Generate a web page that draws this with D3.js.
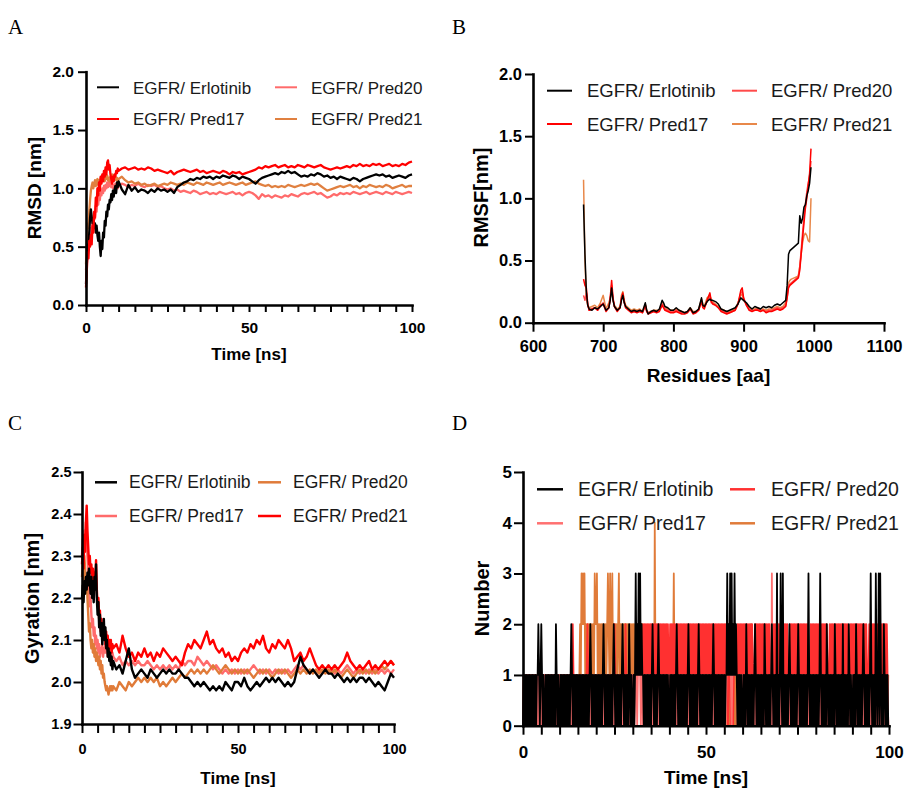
<!DOCTYPE html>
<html>
<head>
<meta charset="utf-8">
<script src="https://cdn.jsdelivr.net/npm/d3@7"></script>
<style>
body { margin: 0; background: #fff; }
svg { display: block; font-family: "Liberation Sans", Arial, sans-serif; }
</style>
</head>
<body>
<svg id="fig" width="904" height="790"></svg>
<script>
// sampling grids (ns): 0.25 ns up to 10 ns, then 1 ns
var timeGrid = d3.range(0, 10, 0.25).concat(d3.range(10, 100.5, 1));
var hbTime = d3.range(0, 500).map(function(i) { return i * 0.2; });

// A - RMSD [nm]
var rmsdErlotinib = [
0.18,0.35,0.52,0.48,0.62,0.75,0.82,0.76,0.70,0.74,
0.66,0.70,0.62,0.68,0.60,0.55,0.62,0.50,0.42,0.55,
0.48,0.62,0.58,0.72,0.68,0.80,0.76,0.86,0.82,0.90,
0.88,0.95,0.90,0.98,0.93,0.99,1.02,0.96,1.05,1.01,
1.06,0.99,0.95,1.03,0.98,1.01,0.97,0.99,0.98,0.96,
0.99,0.97,1.00,0.98,0.99,0.97,0.99,0.96,1.01,1.03,
1.05,1.06,1.08,1.07,1.09,1.08,1.10,1.09,1.10,1.08,
1.10,1.09,1.11,1.10,1.09,1.11,1.10,1.08,1.10,1.09,
1.08,1.06,1.04,1.07,1.09,1.10,1.11,1.12,1.13,1.12,
1.14,1.13,1.15,1.13,1.14,1.12,1.10,1.11,1.10,1.12,
1.11,1.13,1.12,1.10,1.11,1.09,1.10,1.08,1.10,1.09,
1.08,1.07,1.09,1.08,1.06,1.08,1.09,1.10,1.11,1.12,
1.11,1.12,1.10,1.11,1.09,1.10,1.11,1.10,1.09,1.11,
1.12];
var rmsdPred17 = [
0.15,0.30,0.45,0.40,0.55,0.50,0.60,0.52,0.68,0.62,
0.80,0.75,0.92,0.85,1.00,0.94,1.05,0.98,1.10,1.04,
1.12,1.06,1.15,1.10,1.18,1.12,1.22,1.24,1.16,1.20,
1.12,1.08,1.04,1.10,1.06,1.12,1.10,1.15,1.13,1.17,
1.15,1.17,1.18,1.16,1.17,1.18,1.16,1.17,1.16,1.18,
1.17,1.15,1.16,1.15,1.14,1.13,1.15,1.12,1.14,1.15,
1.16,1.15,1.14,1.15,1.16,1.14,1.15,1.13,1.14,1.15,
1.14,1.13,1.15,1.14,1.12,1.14,1.13,1.14,1.12,1.13,
1.14,1.15,1.16,1.18,1.17,1.19,1.18,1.19,1.20,1.18,
1.19,1.20,1.18,1.19,1.18,1.20,1.19,1.18,1.20,1.19,
1.18,1.19,1.20,1.18,1.17,1.16,1.17,1.18,1.17,1.18,
1.19,1.18,1.20,1.19,1.21,1.19,1.20,1.19,1.21,1.20,
1.21,1.19,1.20,1.21,1.19,1.20,1.19,1.21,1.20,1.22,
1.23];
var rmsdPred20 = [
0.30,0.42,0.55,0.50,0.62,0.58,0.66,0.60,0.72,0.68,
0.78,0.74,0.85,0.80,0.90,0.86,0.95,0.90,0.98,0.94,
1.00,0.96,1.02,0.98,1.03,1.00,1.05,1.01,1.06,1.02,
1.05,1.01,1.04,1.00,1.03,1.01,1.04,1.02,1.03,1.00,
1.02,1.04,1.03,1.01,1.03,1.02,1.04,1.02,1.01,1.03,
1.02,1.03,1.01,1.02,1.00,0.99,1.00,0.98,0.99,0.97,
0.98,0.97,0.96,0.98,0.97,0.95,0.96,0.97,0.95,0.96,
0.95,0.97,0.96,0.95,0.96,0.97,0.95,0.96,0.94,0.96,
0.97,0.96,0.94,0.91,0.95,0.93,0.94,0.92,0.94,0.93,
0.92,0.94,0.93,0.95,0.94,0.93,0.95,0.96,0.95,0.96,
0.97,0.95,0.96,0.94,0.92,0.93,0.95,0.94,0.96,0.95,
0.96,0.95,0.97,0.96,0.95,0.96,0.97,0.95,0.96,0.97,
0.96,0.95,0.97,0.96,0.95,0.97,0.96,0.95,0.96,0.97,
0.96];
var rmsdPred21 = [
0.35,0.55,0.70,0.66,0.80,0.90,0.98,1.02,1.05,1.00,
1.04,1.07,1.02,1.06,1.08,1.03,1.07,1.05,1.09,1.06,
1.10,1.07,1.09,1.06,1.10,1.08,1.11,1.07,1.09,1.06,
1.10,1.08,1.12,1.09,1.11,1.08,1.10,1.07,1.09,1.06,
1.08,1.10,1.07,1.05,1.06,1.04,1.05,1.03,1.04,1.02,
1.03,1.04,1.02,1.03,1.04,1.03,1.05,1.04,1.03,1.04,
1.03,1.05,1.04,1.03,1.05,1.04,1.03,1.05,1.04,1.03,
1.04,1.05,1.03,1.04,1.05,1.04,1.03,1.04,1.05,1.03,
1.04,1.05,1.06,1.04,1.03,1.02,1.03,1.01,1.02,1.01,
1.02,1.01,1.03,1.02,1.01,1.02,1.03,1.02,1.03,1.04,
1.03,1.04,1.02,1.00,0.98,0.99,1.00,1.01,1.02,1.01,
1.02,1.03,1.01,1.02,1.00,1.02,1.01,1.03,1.02,1.01,
1.02,1.01,1.03,1.02,1.00,1.01,1.02,1.03,1.01,1.02,
1.02];

// B - RMSF [nm] per residue
var residues = [
672,674,676,678,680,684,688,692,696,700,
704,708,710,712,714,716,720,724,726,728,
730,732,736,740,744,748,752,756,760,762,
764,768,772,776,780,784,786,788,792,796,
800,804,808,812,816,820,824,828,832,836,
840,842,844,848,852,854,856,860,864,868,
872,876,880,884,888,892,896,898,900,904,
908,912,916,920,924,928,932,936,940,944,
948,952,956,960,962,964,966,968,972,976,
978,980,982,984,986,988,990,992,994,996];
var rmsfErlotinib = [
0.95,0.55,0.25,0.14,0.11,0.10,0.12,0.11,0.13,0.15,
0.10,0.12,0.18,0.28,0.18,0.13,0.10,0.12,0.18,0.22,
0.16,0.13,0.11,0.09,0.10,0.09,0.10,0.09,0.16,0.10,
0.07,0.09,0.10,0.09,0.11,0.18,0.16,0.13,0.12,0.10,
0.10,0.12,0.10,0.09,0.08,0.09,0.12,0.08,0.09,0.11,
0.20,0.14,0.13,0.17,0.19,0.18,0.18,0.17,0.15,0.11,
0.10,0.09,0.10,0.11,0.12,0.15,0.20,0.19,0.18,0.16,
0.13,0.11,0.13,0.12,0.11,0.13,0.12,0.13,0.12,0.14,
0.15,0.14,0.16,0.18,0.30,0.55,0.58,0.59,0.61,0.63,
0.64,0.86,0.80,0.84,0.93,0.95,1.02,1.06,1.12,1.25];
var rmsfPred17 = [
0.35,0.30,0.28,0.15,0.10,0.11,0.12,0.10,0.14,0.15,
0.09,0.12,0.20,0.34,0.20,0.13,0.09,0.12,0.20,0.24,
0.17,0.12,0.10,0.08,0.09,0.08,0.09,0.08,0.14,0.09,
0.07,0.08,0.09,0.08,0.09,0.14,0.12,0.10,0.09,0.08,
0.08,0.09,0.08,0.07,0.07,0.08,0.11,0.07,0.08,0.10,
0.17,0.12,0.11,0.18,0.24,0.17,0.15,0.14,0.12,0.09,
0.08,0.07,0.08,0.09,0.10,0.15,0.26,0.28,0.20,0.14,
0.10,0.09,0.10,0.10,0.09,0.10,0.08,0.09,0.09,0.10,
0.11,0.10,0.11,0.13,0.20,0.28,0.30,0.31,0.33,0.35,
0.36,0.42,0.55,0.68,0.80,0.92,1.00,1.10,1.20,1.40];
var rmsfPred20 = [
0.22,0.18,0.24,0.14,0.10,0.11,0.12,0.10,0.13,0.16,
0.10,0.12,0.19,0.30,0.19,0.13,0.10,0.12,0.19,0.22,
0.16,0.12,0.10,0.09,0.09,0.09,0.10,0.08,0.14,0.09,
0.08,0.09,0.09,0.09,0.10,0.15,0.13,0.11,0.10,0.09,
0.09,0.10,0.09,0.08,0.08,0.09,0.11,0.08,0.08,0.10,
0.18,0.13,0.12,0.17,0.22,0.16,0.16,0.14,0.12,0.10,
0.09,0.08,0.08,0.09,0.10,0.15,0.24,0.25,0.19,0.14,
0.11,0.10,0.10,0.11,0.10,0.10,0.09,0.10,0.10,0.11,
0.12,0.11,0.12,0.14,0.20,0.30,0.31,0.32,0.34,0.36,
0.37,0.45,0.58,0.72,0.85,0.95,1.05,1.12,1.18,1.30];
var rmsfPred21 = [
1.15,0.50,0.20,0.14,0.12,0.13,0.14,0.12,0.16,0.22,
0.11,0.16,0.20,0.26,0.18,0.14,0.11,0.13,0.22,0.25,
0.18,0.14,0.12,0.10,0.11,0.10,0.11,0.09,0.15,0.10,
0.08,0.09,0.10,0.10,0.10,0.16,0.14,0.12,0.11,0.10,
0.10,0.11,0.10,0.09,0.08,0.09,0.12,0.09,0.09,0.11,
0.19,0.15,0.13,0.20,0.22,0.18,0.17,0.15,0.13,0.11,
0.10,0.09,0.09,0.10,0.11,0.16,0.22,0.23,0.18,0.15,
0.12,0.11,0.11,0.12,0.11,0.11,0.10,0.11,0.11,0.12,
0.13,0.12,0.13,0.16,0.25,0.32,0.34,0.35,0.36,0.37,
0.38,0.45,0.55,0.64,0.70,0.72,0.70,0.66,0.65,1.00];

// C - radius of gyration [nm]
var gyrErlotinib = [
2.20,2.23,2.19,2.24,2.21,2.25,2.22,2.26,2.23,2.27,
2.24,2.21,2.25,2.20,2.24,2.19,2.25,2.22,2.28,2.20,
2.16,2.19,2.13,2.16,2.11,2.14,2.09,2.12,2.15,2.10,
2.13,2.08,2.10,2.06,2.08,2.05,2.07,2.04,2.06,2.03,
2.05,2.03,2.04,2.02,2.05,2.08,2.03,2.01,2.02,2.03,
2.02,2.01,2.03,2.02,2.01,2.02,2.03,2.02,2.03,2.02,
2.02,2.03,2.02,2.01,2.01,2.00,1.99,2.00,1.99,2.00,
1.99,1.98,1.99,1.98,1.99,1.98,2.00,1.99,1.98,2.00,
2.00,1.99,2.01,1.99,1.98,1.99,2.00,1.99,2.00,2.01,
2.00,2.01,2.00,2.01,2.00,1.99,2.00,1.99,2.00,2.03,
2.06,2.04,2.03,2.02,2.03,2.02,2.01,2.02,2.03,2.02,
2.02,2.01,2.02,2.01,2.00,2.01,2.00,2.01,2.00,2.01,
2.01,2.00,2.01,2.00,1.99,2.00,1.99,1.98,2.00,2.02,
2.01];
var gyrPred17 = [
2.30,2.34,2.30,2.36,2.33,2.38,2.35,2.30,2.26,2.22,
2.18,2.20,2.16,2.13,2.15,2.11,2.13,2.09,2.11,2.08,
2.10,2.07,2.09,2.06,2.08,2.07,2.09,2.06,2.08,2.07,
2.09,2.07,2.08,2.06,2.08,2.07,2.06,2.08,2.06,2.07,
2.06,2.05,2.06,2.04,2.05,2.04,2.05,2.04,2.05,2.04,
2.04,2.05,2.04,2.03,2.04,2.03,2.04,2.03,2.04,2.03,
2.04,2.03,2.05,2.04,2.05,2.05,2.04,2.06,2.05,2.04,
2.05,2.04,2.03,2.04,2.03,2.02,2.03,2.02,2.03,2.02,
2.03,2.02,2.03,2.02,2.03,2.04,2.03,2.02,2.03,2.02,
2.03,2.02,2.03,2.02,2.03,2.02,2.03,2.02,2.03,2.04,
2.03,2.04,2.03,2.02,2.03,2.02,2.03,2.02,2.03,2.02,
2.03,2.02,2.03,2.02,2.03,2.04,2.03,2.02,2.03,2.02,
2.03,2.02,2.03,2.02,2.03,2.02,2.03,2.02,2.03,2.02,
2.03];
var gyrPred20 = [
2.25,2.28,2.24,2.30,2.27,2.22,2.25,2.20,2.16,2.12,
2.14,2.10,2.08,2.10,2.07,2.09,2.06,2.08,2.05,2.07,
2.06,2.04,2.06,2.03,2.05,2.02,2.04,2.01,2.02,2.00,
1.99,1.98,1.99,1.98,1.97,1.98,1.99,1.98,1.99,1.98,
1.99,1.98,2.00,1.99,1.98,2.00,1.99,2.00,2.01,2.00,
2.01,2.00,2.01,2.00,2.01,1.99,2.00,1.99,2.00,2.01,
2.00,2.01,2.02,2.01,2.02,2.03,2.02,2.03,2.02,2.03,
2.02,2.03,2.04,2.03,2.02,2.03,2.04,2.03,2.02,2.03,
2.02,2.03,2.02,2.03,2.02,2.01,2.02,2.03,2.02,2.03,
2.02,2.01,2.02,2.03,2.02,2.03,2.02,2.01,2.02,2.03,
2.02,2.03,2.02,2.03,2.02,2.03,2.02,2.03,2.02,2.03,
2.02,2.03,2.02,2.01,2.02,2.03,2.02,2.01,2.02,2.03,
2.02,2.03,2.02,2.03,2.02,2.03,2.04,2.03,2.04,2.05,
2.04];
var gyrPred21 = [
2.28,2.32,2.27,2.35,2.31,2.38,2.42,2.36,2.32,2.28,
2.30,2.26,2.28,2.24,2.27,2.23,2.26,2.24,2.29,2.22,
2.18,2.20,2.15,2.17,2.12,2.15,2.11,2.14,2.10,2.13,
2.09,2.12,2.08,2.11,2.07,2.10,2.08,2.10,2.07,2.09,
2.08,2.09,2.07,2.11,2.08,2.06,2.07,2.05,2.07,2.06,
2.08,2.06,2.07,2.05,2.07,2.06,2.08,2.07,2.06,2.05,
2.06,2.05,2.04,2.07,2.09,2.08,2.10,2.09,2.08,2.10,
2.12,2.09,2.10,2.08,2.07,2.08,2.06,2.07,2.05,2.06,
2.05,2.07,2.08,2.07,2.09,2.08,2.10,2.09,2.11,2.08,
2.07,2.09,2.08,2.10,2.09,2.08,2.10,2.08,2.05,2.06,
2.07,2.05,2.06,2.08,2.06,2.04,2.03,2.04,2.03,2.04,
2.03,2.04,2.03,2.04,2.05,2.07,2.05,2.04,2.03,2.04,
2.03,2.04,2.05,2.03,2.04,2.03,2.04,2.05,2.04,2.05,
2.04];

// D - number of hydrogen bonds, one digit per 0.2 ns frame (10 ns per string)
var hbErlotinib = [
"01010101010101010101121012101001010101010101021010",
"01010101010101012101010101010101010101010121010101",
"01010101012101010101010121010101010121010101021010",
"01013121313121101010101010121010101210101010101010",
"01010101012101010101010101210101010101012101010101",
"01010101012101010101010101011312131312131210101010",
"01010210101010101210101010101021010101012101010301",
"01310301010101210101010101210101010101013101010101",
"01010131010101021010101010210101010102010101021010",
"01010210101010121010101013101010310130310102101010"];
var hbPred17 = [
"01010101010101010101010101010101010101010101010101",
"01010101010101010101010101010101010101010101010101",
"01010101010101010101010101010101010101010101010101",
"01011101111011010101101010101010101010101010101010",
"10101010101010101010101010101010101010101010101010",
"10101010101010101010101010101111111011111110101010",
"10101010101010101010101010101010101010103010101010",
"10101010101010101010101010101010101010101010101010",
"10101010101010101010101010101010101010101010101010",
"10101010101010101010101010101010101010101010101010"];
var hbPred20 = [
"01010101010101010101010101010101010101010101010101",
"01010101010101010121010101010101010101210101010101",
"10101010101010101010101012101010101010102101010101",
"01011111111111212121212121212121212121212121212121",
"12121212121212121212121212121212121212121212121212",
"12121212121212121212121212121101110110111112121212",
"12121212121212101212121212121212121212101212121212",
"12121212121210121212121212121212121212121012121212",
"12121212121212121012121212121212121212121212101212",
"12121212121212121212101212121212121212121212121210"];
var hbPred21 = [
"01010101010101010101010101010101010101010101010101",
"01010101010101010101010101012132323121212121212132",
"23121212121212123213123121212123121212121212121212",
"12121212121212101010101010101041010101010101010101",
"01010131010101010101010101010101010101010101010101",
"01010101010101010101010101010101010101010101010101",
"01010101010121010101010101010101010101010101010101",
"01010101010101010101010101010101010101010101010101",
"01010101010101010101010101010101010101010101010101",
"01010101010101010101010101010101010101010101010101"];

function frames(chunks) { return chunks.join("").split("").map(Number); }

var legendNames = ["EGFR/ Erlotinib", "EGFR/ Pred20", "EGFR/ Pred17", "EGFR/ Pred21"];
var minorTicks = d3.range(0, 101, 5);
var every50 = function(d) { return d % 50 === 0 ? d : ""; };

var panels = [
  {letter: "A", lx: 8, ly: 34,
   xs: timeGrid, xDomain: [0, 100], xRange: [86, 412], yDomain: [0, 2], yRange: [305, 71.7],
   xTicks: minorTicks, xFmt: every50, yTicks: [0, 0.5, 1, 1.5, 2], yFmt: d3.format(".1f"),
   tickFont: 15.5, xTick: 7, xPad: 10, yTick: 8, yPad: 4,
   xTitle: "Time [ns]", xTitleY: 360, xTitleFont: 17,
   yTitle: "RMSD [nm]", yTitleX: 40.5, yTitleY: 188, yTitleFont: 19,
   lineWidth: 2.3,
   series: [
     {name: "EGFR/ Pred20", values: rmsdPred20, color: "#ff6b6b"},
     {name: "EGFR/ Pred21", values: rmsdPred21, color: "#e08040"},
     {name: "EGFR/ Erlotinib", values: rmsdErlotinib, color: "#000"},
     {name: "EGFR/ Pred17", values: rmsdPred17, color: "#ff0000"}],
   legend: {font: 17, base: [94.3, 125], lineY: [87.3, 119], lineX: [[97, 119], [275, 297]], textX: [133, 311], width: 2}},
  {letter: "B", lx: 452, ly: 34,
   xs: residues, xDomain: [600, 1100], xRange: [533, 884], yDomain: [0, 2], yRange: [322.7, 74],
   xTicks: [600, 700, 800, 900, 1000, 1100], xFmt: d3.format("d"), yTicks: [0, 0.5, 1, 1.5, 2], yFmt: d3.format(".1f"),
   tickFont: 16.5, xTick: 9, xPad: 9, yTick: 8, yPad: 3,
   xTitle: "Residues [aa]", xTitleY: 382, xTitleFont: 19,
   yTitle: "RMSF[nm]", yTitleX: 488, yTitleY: 197.5, yTitleFont: 20,
   lineWidth: 1.5,
   series: [
     {name: "EGFR/ Pred21", values: rmsfPred21, color: "#e8884a"},
     {name: "EGFR/ Pred20", values: rmsfPred20, color: "#ff4a4a"},
     {name: "EGFR/ Pred17", values: rmsfPred17, color: "#ff0000"},
     {name: "EGFR/ Erlotinib", values: rmsfErlotinib, color: "#000"}],
   legend: {font: 18.5, base: [97.3, 130.7], lineY: [90.7, 124], lineX: [[547, 572], [732, 757]], textX: [587, 771], width: 2}},
  {letter: "C", lx: 8, ly: 430,
   xs: timeGrid, xDomain: [0, 100], xRange: [82, 394], yDomain: [1.9, 2.5], yRange: [724, 472],
   xTicks: minorTicks, xFmt: every50, yTicks: [1.9, 2.0, 2.1, 2.2, 2.3, 2.4, 2.5], yFmt: d3.format(".1f"),
   tickFont: 14.5, xTick: 9, xPad: 11, yTick: 8.5, yPad: 2,
   xTitle: "Time [ns]", xTitleY: 783.5, xTitleFont: 17,
   yTitle: "Gyration [nm]", yTitleX: 38.5, yTitleY: 598.5, yTitleFont: 20,
   lineWidth: 2.4,
   series: [
     {name: "EGFR/ Pred17", values: gyrPred17, color: "#ff6b6b"},
     {name: "EGFR/ Pred20", values: gyrPred20, color: "#e07b39"},
     {name: "EGFR/ Pred21", values: gyrPred21, color: "#ff0000"},
     {name: "EGFR/ Erlotinib", values: gyrErlotinib, color: "#000"}],
   legend: {font: 17.5, base: [488.3, 521.7], lineY: [482.3, 516], lineX: [[95, 117], [258, 281]], textX: [129, 293], width: 2.5}},
  {letter: "D", lx: 452, ly: 430,
   xs: hbTime, xDomain: [0, 100], xRange: [523, 889], yDomain: [0, 5], yRange: [725.7, 472],
   xTicks: minorTicks, xFmt: every50, yTicks: [0, 1, 2, 3, 4, 5], yFmt: d3.format("d"),
   tickFont: 17, xTick: 9, xPad: 11, yTick: 9, yPad: 2,
   xTitle: "Time [ns]", xTitleY: 784, xTitleFont: 19,
   yTitle: "Number", yTitleX: 489, yTitleY: 598.5, yTitleFont: 20,
   lineWidth: 1.8,
   series: [
     {name: "EGFR/ Pred21", values: frames(hbPred21), color: "#e07b39"},
     {name: "EGFR/ Pred20", values: frames(hbPred20), color: "#ff3030"},
     {name: "EGFR/ Pred17", values: frames(hbPred17), color: "#ff7070"},
     {name: "EGFR/ Erlotinib", values: frames(hbErlotinib), color: "#000"}],
   legend: {font: 19.5, base: [496, 530], lineY: [489.3, 523.3], lineX: [[537, 563], [730, 755]], textX: [578, 771], width: 2.5}}
];

var svg = d3.select("#fig");

panels.forEach(function(p) {
  var g = svg.append("g");
  var x = d3.scaleLinear().domain(p.xDomain).range(p.xRange);
  var y = d3.scaleLinear().domain(p.yDomain).range(p.yRange);
  var line = d3.line()
      .x(function(d) { return x(d[0]); })
      .y(function(d) { return y(d[1]); });

  p.series.forEach(function(s) {
    g.append("path")
        .datum(s.values.map(function(v, i) { return [p.xs[i], v]; }))
        .attr("fill", "none")
        .attr("stroke", s.color)
        .attr("stroke-width", p.lineWidth)
        .attr("stroke-linejoin", "round")
        .attr("d", line);
  });

  var gx = g.append("g")
      .attr("transform", "translate(0," + p.yRange[0] + ")")
      .call(d3.axisBottom(x).tickValues(p.xTicks).tickFormat(p.xFmt)
        .tickSize(p.xTick).tickPadding(p.xPad).tickSizeOuter(0));
  var gy = g.append("g")
      .attr("transform", "translate(" + p.xRange[0] + ",0)")
      .call(d3.axisLeft(y).tickValues(p.yTicks).tickFormat(p.yFmt)
        .tickSize(p.yTick).tickPadding(p.yPad).tickSizeOuter(0));
  [gx, gy].forEach(function(a) {
    a.attr("font-family", null).attr("font-size", p.tickFont);
    a.select(".domain").attr("stroke", "#000").attr("stroke-width", 2.6).attr("stroke-linecap", "square");
    a.selectAll(".tick line").attr("stroke", "#000").attr("stroke-width", 2);
    a.selectAll(".tick text").attr("fill", "#000").attr("font-weight", "bold");
  });

  g.append("text")
      .attr("x", (p.xRange[0] + p.xRange[1]) / 2)
      .attr("y", p.xTitleY)
      .attr("text-anchor", "middle")
      .attr("font-weight", "bold")
      .attr("font-size", p.xTitleFont)
      .text(p.xTitle);
  g.append("text")
      .attr("transform", "translate(" + p.yTitleX + "," + p.yTitleY + ") rotate(-90)")
      .attr("text-anchor", "middle")
      .attr("font-weight", "bold")
      .attr("font-size", p.yTitleFont)
      .text(p.yTitle);

  var colorOf = {};
  p.series.forEach(function(s) { colorOf[s.name] = s.color; });
  var lg = g.selectAll(".legend")
    .data(legendNames)
    .enter().append("g")
      .attr("class", "legend");
  lg.append("line")
      .attr("x1", function(d, i) { return p.legend.lineX[i % 2][0]; })
      .attr("x2", function(d, i) { return p.legend.lineX[i % 2][1]; })
      .attr("y1", function(d, i) { return p.legend.lineY[Math.floor(i / 2)]; })
      .attr("y2", function(d, i) { return p.legend.lineY[Math.floor(i / 2)]; })
      .attr("stroke", function(d) { return colorOf[d]; })
      .attr("stroke-width", p.legend.width);
  lg.append("text")
      .attr("x", function(d, i) { return p.legend.textX[i % 2]; })
      .attr("y", function(d, i) { return p.legend.base[Math.floor(i / 2)]; })
      .attr("font-size", p.legend.font)
      .attr("fill", "#1a1a1a")
      .text(function(d) { return d; });

  svg.append("text")
      .attr("x", p.lx)
      .attr("y", p.ly)
      .attr("font-family", "'Liberation Serif', 'Times New Roman', serif")
      .attr("font-size", 21)
      .text(p.letter);
});
</script>
</body>
</html>
